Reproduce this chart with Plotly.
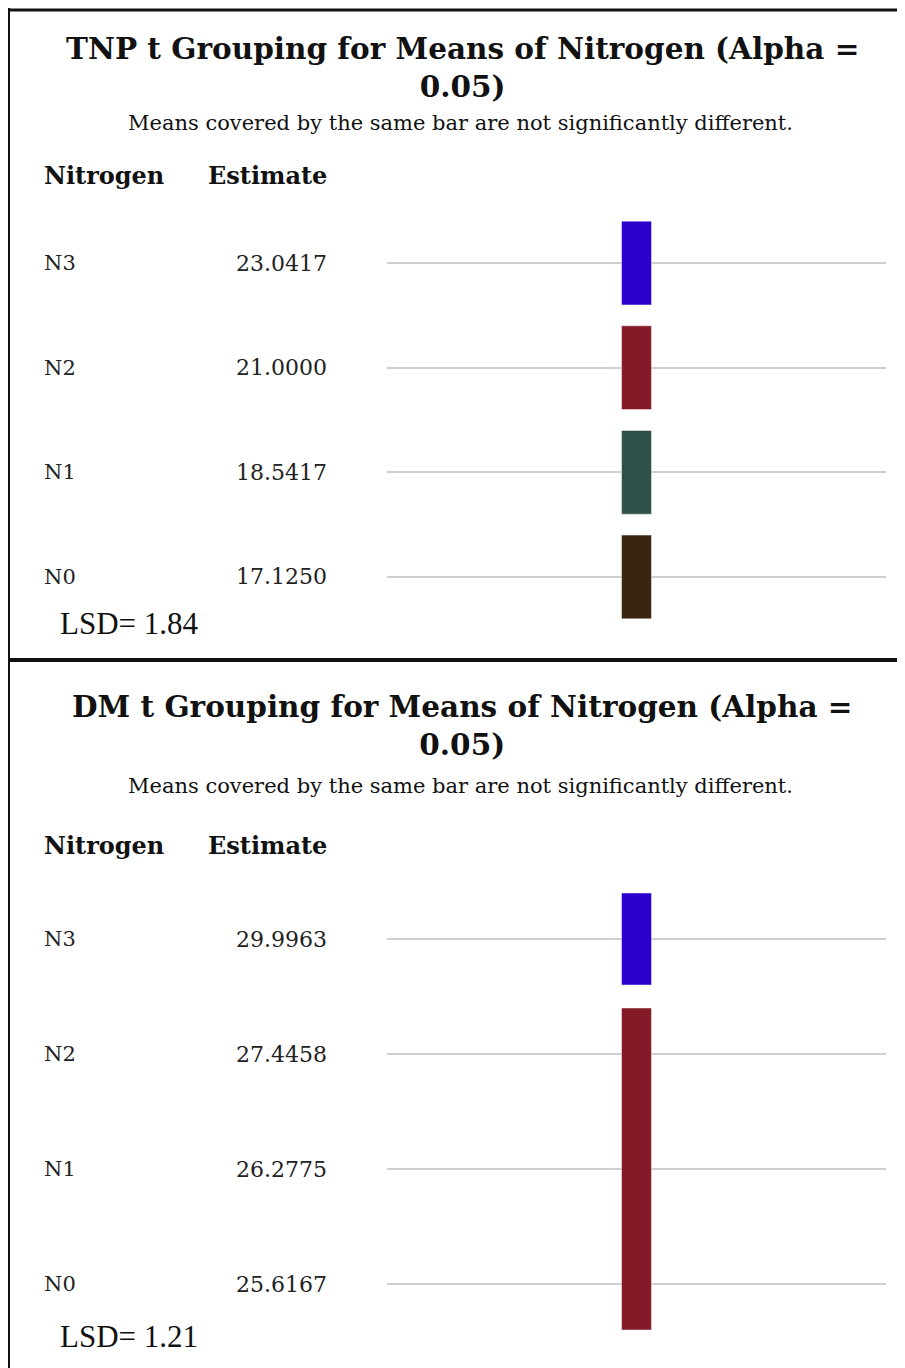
import plotly.graph_objects as go

# data
nitrogen = ["N0", "N1", "N2", "N3"]
tnp_estimates = [17.1250, 18.5417, 21.0000, 23.0417]
dm_estimates = [25.6167, 26.2775, 27.4458, 29.9963]

# groups of rows covered by the same bar (row index into nitrogen)
tnp_groups = [[3], [2], [1], [0]]
tnp_colors = ["#2b00cc", "#841a28", "#2e5249", "#3a2610"]
dm_groups = [[3], [0, 1, 2]]
dm_colors = ["#2b00cc", "#841a28"]

tnp_lsd = 1.84
dm_lsd = 1.21

W, H = 905, 1368
OFF = 8  # page body margin of the browser
SERIF = "DejaVu Serif"
TIMES = "Liberation Serif"


def py(px):
    # page pixel from top -> paper y
    return 1 - (px - OFF) / H


def px_x(px):
    return (px - OFF) / W


fig = go.Figure()

panels = [
    dict(name="TNP", est=tnp_estimates, groups=tnp_groups, colors=tnp_colors, lsd=tnp_lsd,
         xa="x", ya="y", ydom=[py(629.3), py(210.7)],
         title_y=67, sub_y=123, head_y=176, lsd_y=623),
    dict(name="DM", est=dm_estimates, groups=dm_groups, colors=dm_colors, lsd=dm_lsd,
         xa="x2", ya="y2", ydom=[py(1341.5), py(881.5)],
         title_y=725, sub_y=786, head_y=845, lsd_y=1336),
]

annotations = []
for i, p in enumerate(panels):
    for rows, color in zip(p["groups"], p["colors"]):
        lo, hi = min(rows), max(rows)
        fig.add_trace(go.Bar(
            x=[0.5], y=[hi - lo + 0.8], base=[lo - 0.4],
            width=0.06, marker_color=color,
            marker_line=dict(color="rgba(255,255,255,0.45)", width=1),
            xaxis=p["xa"], yaxis=p["ya"], showlegend=False, hoverinfo="skip",
        ))

    annotations.append(dict(
        text="<b>%s t Grouping for Means of Nitrogen (Alpha =<br>0.05)</b>" % p["name"],
        x=px_x(462), y=py(p["title_y"]), xref="paper", yref="paper",
        xanchor="center", yanchor="middle", showarrow=False, align="center",
        font=dict(family=SERIF, size=29.5, color="#111111"),
    ))
    annotations.append(dict(
        text="Means covered by the same bar are not significantly different.",
        x=px_x(460), y=py(p["sub_y"]), xref="paper", yref="paper",
        xanchor="center", yanchor="middle", showarrow=False,
        font=dict(family=SERIF, size=21, color="#111111"),
    ))
    annotations.append(dict(
        text="<b>Nitrogen</b>", x=px_x(42), y=py(p["head_y"]), xref="paper", yref="paper",
        xanchor="left", yanchor="middle", showarrow=False,
        font=dict(family=SERIF, size=24, color="#111111"),
    ))
    annotations.append(dict(
        text="<b>Estimate</b>", x=px_x(329), y=py(p["head_y"]), xref="paper", yref="paper",
        xanchor="right", yanchor="middle", showarrow=False,
        font=dict(family=SERIF, size=24, color="#111111"),
    ))
    yref = p["ya"]
    for row, (lab, est) in enumerate(zip(nitrogen, p["est"])):
        annotations.append(dict(
            text=lab, x=px_x(42), y=row, xref="paper", yref=yref,
            xanchor="left", yanchor="middle", showarrow=False,
            font=dict(family=SERIF, size=21, color="#222222"),
        ))
        annotations.append(dict(
            text="%.4f" % est, x=px_x(329), y=row, xref="paper", yref=yref,
            xanchor="right", yanchor="middle", showarrow=False,
            font=dict(family=SERIF, size=22, color="#222222"),
        ))
    annotations.append(dict(
        text="LSD= %.2f" % p["lsd"], x=px_x(58), y=py(p["lsd_y"]), xref="paper", yref="paper",
        xanchor="left", yanchor="middle", showarrow=False,
        font=dict(family=TIMES, size=31, color="#111111"),
    ))

axis_x = dict(domain=[px_x(387), px_x(886)], range=[0, 1], visible=False, fixedrange=True)
axis_y = dict(range=[-0.5, 3.5], tickvals=[0, 1, 2, 3], showticklabels=False, ticks="",
              showgrid=True, gridcolor="#cfcfcf", gridwidth=2, zeroline=False,
              showline=False, fixedrange=True)

shapes = [
    dict(type="line", xref="paper", yref="paper", x0=0, x1=1, y0=py(10), y1=py(10),
         line=dict(color="#111111", width=3)),
    dict(type="line", xref="paper", yref="paper", x0=0, x1=0, y0=1, y1=0,
         line=dict(color="#111111", width=4)),
    dict(type="line", xref="paper", yref="paper", x0=0, x1=1, y0=py(660), y1=py(660),
         line=dict(color="#111111", width=4)),
]

fig.update_layout(
    width=W, height=H,
    margin=dict(l=0, r=0, t=0, b=0),
    paper_bgcolor="white", plot_bgcolor="white",
    barmode="overlay",
    xaxis=dict(axis_x, anchor="y"),
    yaxis=dict(axis_y, domain=panels[0]["ydom"], anchor="x"),
    xaxis2=dict(axis_x, anchor="y2"),
    yaxis2=dict(axis_y, domain=panels[1]["ydom"], anchor="x2"),
    annotations=annotations,
    shapes=shapes,
    showlegend=False,
)

fig.write_html("out.html")
